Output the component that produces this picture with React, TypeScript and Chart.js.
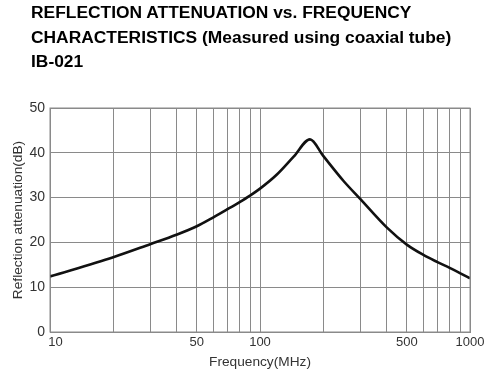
import React, { useEffect, useRef } from "react";
import { Chart, registerables } from "chart.js";

Chart.register(...registerables);

const titleLines = [
  "REFLECTION ATTENUATION vs. FREQUENCY",
  "CHARACTERISTICS (Measured using coaxial tube)",
  "IB-021",
];
const frequencyMHz = [10, 20, 30, 40, 50, 60, 70, 80, 90, 100, 120, 145, 173, 200, 250, 300, 400, 500, 600, 700, 800, 900, 1000];
const attenuationDb = [12.4, 16.7, 19.6, 21.7, 23.6, 25.6, 27.4, 29.0, 30.5, 32.0, 35.1, 39.2, 43.0, 39.3, 33.7, 29.7, 23.4, 19.5, 17.2, 15.6, 14.3, 13.1, 12.0];
const xTickLabels = [10, 50, 100, 500, 1000];
const yTicks = [0, 10, 20, 30, 40, 50];
const xTitle = "Frequency(MHz)";
const yTitle = "Reflection attenuation(dB)";

const FONT = "'Liberation Sans', Arial, sans-serif";

export default function App() {
  const ref = useRef<HTMLCanvasElement>(null);
  useEffect(() => {
    if (!ref.current) return;
    const chart = new Chart(ref.current, {
      type: "line",
      data: {
        datasets: [
          {
            data: frequencyMHz.map((f, i) => ({ x: f, y: attenuationDb[i] })),
            borderColor: "#111",
            borderWidth: 2.6,
            pointRadius: 0,
            fill: false,
            cubicInterpolationMode: "monotone",
          },
        ],
      },
      options: {
        animation: false,
        responsive: false,
        maintainAspectRatio: false,
        layout: { padding: { left: 0, right: 30, top: 108, bottom: 0 }, autoPadding: false },
        plugins: {
          legend: { display: false },
          tooltip: { enabled: false },
          title: { display: false },
        },
        scales: {
          x: {
            type: "logarithmic",
            min: 10,
            max: 1000,
            afterFit: (s: any) => {
              s.height = 48;
            },
            afterBuildTicks: (s: any) => {
              const t: any[] = [];
              for (const d of [10, 100]) {
                for (let k = 1; k <= 9; k++) t.push({ value: d * k });
              }
              t.push({ value: 1000 });
              s.ticks = t;
            },
            ticks: {
              autoSkip: false,
              maxRotation: 0,
              minRotation: 0,
              padding: 3,
              color: "#333",
              font: { family: FONT, size: 13 },
              callback: (v: any) => {
                const n = Number(v);
                if (!xTickLabels.includes(n)) return "";
                return n === 10 ? "   " + n : String(n);
              },
            },
            grid: { color: "#8a8a8a", lineWidth: 1, drawTicks: false },
            border: { color: "#8a8a8a", width: 1 },
            title: {
              display: true,
              text: xTitle,
              color: "#333",
              font: { family: FONT, size: 13.7 },
              padding: { top: 0, bottom: 10 },
            },
          },
          y: {
            min: 0,
            max: 50,
            afterFit: (s: any) => {
              s.width = 50;
            },
            afterBuildTicks: (s: any) => {
              s.ticks = yTicks.map((v) => ({ value: v }));
            },
            ticks: {
              padding: 5,
              color: "#333",
              font: { family: FONT, size: 14 },
            },
            grid: { color: "#8a8a8a", lineWidth: 1, drawTicks: false },
            border: { color: "#8a8a8a", width: 1 },
            title: {
              display: true,
              text: yTitle,
              color: "#333",
              font: { family: FONT, size: 13.7 },
              padding: { top: 10, bottom: 0 },
            },
          },
        },
      },
      plugins: [
        {
          id: "frame",
          afterDraw(c: any) {
            const { ctx, chartArea: a } = c;
            ctx.save();
            ctx.strokeStyle = "#8a8a8a";
            ctx.lineWidth = 1;
            ctx.strokeRect(a.left, a.top, a.right - a.left, a.bottom - a.top);
            ctx.restore();
          },
        },
      ],
    } as any);
    return () => chart.destroy();
  }, []);
  return (
    <div style={{ position: "fixed", left: 0, top: 0, width: 500, height: 380, background: "#fff" }}>
      <canvas ref={ref} width={500} height={380} style={{ display: "block" }} />
      <div
        style={{
          position: "absolute",
          left: 31,
          top: 0,
          fontFamily: FONT,
          fontWeight: "bold",
          fontSize: 17.4,
          lineHeight: "24.5px",
          color: "#000",
          whiteSpace: "nowrap",
        }}
      >
        {titleLines.map((l, i) => (
          <div key={i}>{l}</div>
        ))}
      </div>
    </div>
  );
}
